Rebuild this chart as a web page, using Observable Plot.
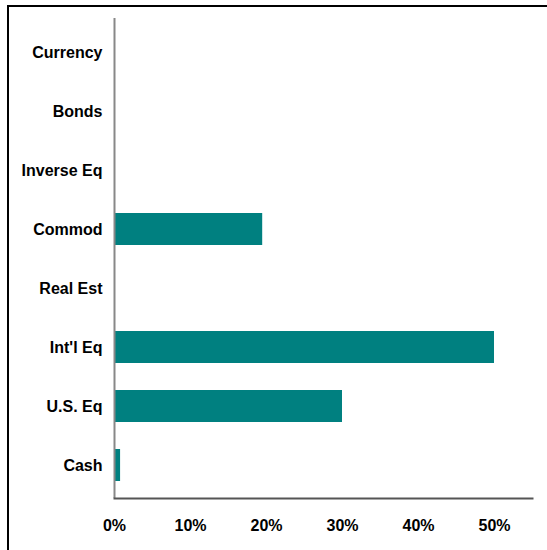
<!DOCTYPE html>
<html>
<head>
<meta charset="utf-8">
<script src="https://cdn.jsdelivr.net/npm/d3@7"></script>
<script src="https://cdn.jsdelivr.net/npm/@observablehq/plot@0.6"></script>
<style>
  html, body { margin: 0; padding: 0; background: #fff; }
  #wrap { position: relative; width: 547px; height: 550px; overflow: hidden; }
  #border { position: absolute; left: 7px; top: 5px; width: 540px; height: 550px;
            border-top: 2px solid #000; border-left: 2px solid #000; box-sizing: border-box; }
  #wrap svg { position: absolute; left: 0; top: 0; }
</style>
</head>
<body>
<div id="wrap"><div id="border"></div></div>
<script>
const categories = ["Currency", "Bonds", "Inverse Eq", "Commod", "Real Est", "Int'l Eq", "U.S. Eq", "Cash"];
const values = [0, 0, 0, 0.195, 0, 0.50, 0.30, 0.008];
const xTicks = [0, 0.1, 0.2, 0.3, 0.4, 0.5];

const data = categories.map((c, i) => ({category: c, value: values[i]}));

const chart = Plot.plot({
  width: 547,
  height: 550,
  marginLeft: 114,
  marginRight: 15,
  marginTop: 18,
  marginBottom: 52,
  style: {fontFamily: "'Liberation Sans', Arial, sans-serif", fontSize: "16px", fontWeight: "bold", color: "#000", background: "transparent"},
  x: {domain: [0, 0.55], ticks: xTicks, tickFormat: d3.format(".0%"), tickSize: 0, tickPadding: 21, label: null},
  y: {domain: categories, paddingInner: 0.46, paddingOuter: 0.25, tickSize: 0, tickPadding: 12, label: null},
  marks: [
    Plot.barX(data, {x: "value", y: "category", fill: "#008080"}),
    Plot.ruleX([0], {stroke: "#888", strokeWidth: 2}),
    Plot.frame({anchor: "bottom", stroke: "#555", strokeWidth: 2})
  ]
});
document.getElementById("wrap").appendChild(chart);
</script>
</body>
</html>
